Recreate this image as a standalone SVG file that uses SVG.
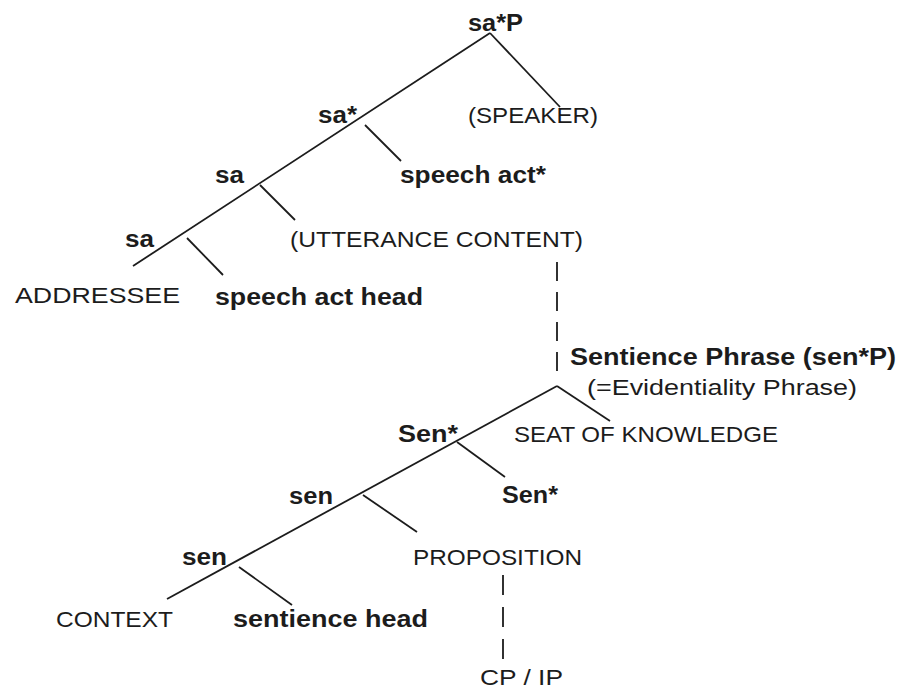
<svg xmlns="http://www.w3.org/2000/svg" width="899" height="691" viewBox="0 0 899 691">
<style>
.b{font-family:"Liberation Sans",Arial,sans-serif;font-weight:bold;font-size:23.5px;fill:#1c1c1c}
.r{font-family:"Liberation Sans",Arial,sans-serif;font-size:22px;fill:#1c1c1c}
.e{stroke:#1c1c1c;stroke-width:1.8;fill:none}
.d{stroke:#1c1c1c;stroke-width:1.8;fill:none}
</style>
<rect width="899" height="691" fill="#ffffff"/>
<g id="connectors">
<line class="e" x1="490" y1="33" x2="133" y2="266"/>
<line class="e" x1="490" y1="33" x2="560" y2="107"/>
<line class="e" x1="365" y1="125" x2="401" y2="161"/>
<line class="e" x1="260" y1="185" x2="295" y2="220"/>
<line class="e" x1="187" y1="238" x2="223" y2="275"/>
<line class="d" x1="557" y1="262" x2="557" y2="373" stroke-dasharray="19 11"/>
<line class="e" x1="557" y1="386" x2="167" y2="599"/>
<line class="e" x1="557" y1="386" x2="610" y2="421"/>
<line class="e" x1="457" y1="442" x2="505" y2="477"/>
<line class="e" x1="363" y1="495" x2="417" y2="532"/>
<line class="e" x1="239" y1="567" x2="292" y2="605"/>
<line class="d" x1="503" y1="575" x2="503" y2="659" stroke-dasharray="20 12"/>
</g>
<g id="saP"><text class="b" x="468" y="31" textLength="55" lengthAdjust="spacingAndGlyphs">sa*P</text></g>
<g id="speaker"><text class="r" x="468" y="123" textLength="130" lengthAdjust="spacingAndGlyphs">(SPEAKER)</text></g>
<g id="saStar"><text class="b" x="318" y="123" textLength="39" lengthAdjust="spacingAndGlyphs">sa*</text></g>
<g id="speechActStar"><text class="b" x="400" y="183" textLength="146" lengthAdjust="spacingAndGlyphs">speech act*</text></g>
<g id="sa1"><text class="b" x="215" y="183" textLength="29" lengthAdjust="spacingAndGlyphs">sa</text></g>
<g id="utterance"><text class="r" x="290" y="247" textLength="293" lengthAdjust="spacingAndGlyphs">(UTTERANCE CONTENT)</text></g>
<g id="sa2"><text class="b" x="125" y="247" textLength="29" lengthAdjust="spacingAndGlyphs">sa</text></g>
<g id="addressee"><text class="r" x="15" y="303" textLength="165" lengthAdjust="spacingAndGlyphs">ADDRESSEE</text></g>
<g id="speechActHead"><text class="b" x="215" y="305" textLength="208" lengthAdjust="spacingAndGlyphs">speech act head</text></g>
<g id="senP"><text class="b" x="570" y="365" textLength="326" lengthAdjust="spacingAndGlyphs">Sentience Phrase (sen*P)</text>
<text class="r" x="587" y="395" textLength="270" lengthAdjust="spacingAndGlyphs">(=Evidentiality Phrase)</text></g>
<g id="seat"><text class="r" x="514" y="442" textLength="264" lengthAdjust="spacingAndGlyphs">SEAT OF KNOWLEDGE</text></g>
<g id="senStar1"><text class="b" x="398" y="442" textLength="60" lengthAdjust="spacingAndGlyphs">Sen*</text></g>
<g id="senStar2"><text class="b" x="502" y="503" textLength="56" lengthAdjust="spacingAndGlyphs">Sen*</text></g>
<g id="sen1"><text class="b" x="289" y="504" textLength="44" lengthAdjust="spacingAndGlyphs">sen</text></g>
<g id="proposition"><text class="r" x="413" y="565" textLength="169" lengthAdjust="spacingAndGlyphs">PROPOSITION</text></g>
<g id="sen2"><text class="b" x="182" y="565" textLength="45" lengthAdjust="spacingAndGlyphs">sen</text></g>
<g id="context"><text class="r" x="56" y="627" textLength="117" lengthAdjust="spacingAndGlyphs">CONTEXT</text></g>
<g id="sentienceHead"><text class="b" x="233" y="627" textLength="195" lengthAdjust="spacingAndGlyphs">sentience head</text></g>
<g id="cpip"><text class="r" x="480" y="685" textLength="83" lengthAdjust="spacingAndGlyphs">CP / IP</text></g>
</svg>
